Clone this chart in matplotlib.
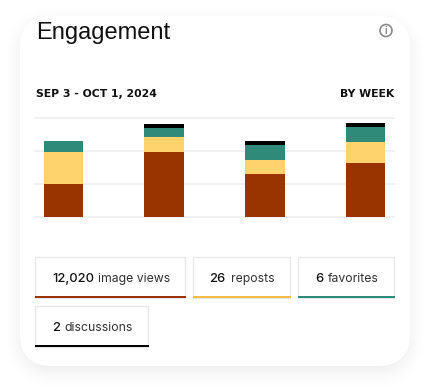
import numpy as np
import matplotlib
matplotlib.use("Agg")
import matplotlib.pyplot as plt
from matplotlib.patches import FancyBboxPatch, Rectangle, Circle

# Stacked bars (one gridline step = 100)
weeks = ["w1", "w2", "w3", "w4"]
image_views = [100, 197, 130, 164]
reposts = [97, 45, 42, 64]
favorites = [33, 27, 45, 45]
discussions = [0, 12, 12, 12]
grid_values = [0, 100, 200, 300]

# Legend boxes
legend_numbers = ["12,020", "26", "6", "2"]
legend_names = ["image views", "reposts", "favorites", "discussions"]

BROWN = "#993300"
YELLOW = "#FFD36B"
TEAL = "#2F8A7A"
BLACK = "#000000"
LINE_COLORS = [BROWN, "#F5BC42", TEAL, BLACK]

W, H = 430, 390
fig = plt.figure(figsize=(W / 100, H / 100), dpi=100, facecolor="white")

# Background axes in pixel coordinates for the card and the boxes
bg = fig.add_axes([0, 0, 1, 1])


# soft shadow from the distance to a rounded rectangle
def card_distance(px, py, x0, y0, x1, y1, r):
    cx, cy = (x0 + x1) / 2, (y0 + y1) / 2
    qx = np.abs(px - cx) - (x1 - x0) / 2 + r
    qy = np.abs(py - cy) - (y1 - y0) / 2 + r
    return np.hypot(np.maximum(qx, 0), np.maximum(qy, 0)) + np.minimum(np.maximum(qx, qy), 0) - r


px, py = np.meshgrid(np.arange(W) + 0.5, np.arange(H) + 0.5)
d = card_distance(px, py, 20, 22, 410, 372, 32)
shade = np.clip(1 - (d + 4) / 26, 0, 1) ** 2 * 0.055
bg.imshow(1 - shade, cmap="gray", vmin=0, vmax=1, extent=(0, W, H, 0), interpolation="bilinear", zorder=0)
bg.set_xlim(0, W)
bg.set_ylim(H, 0)
bg.set_aspect("auto")
bg.axis("off")

bg.add_patch(FancyBboxPatch((20, 16), 390, 350, boxstyle="round,pad=0,rounding_size=32",
                            fc="white", ec="none", zorder=1))

bg.text(36, 38.5, "Engagement", fontsize=17, family="Liberation Sans", color="#111111", va="baseline", ha="left", zorder=4)

# info icon
bg.add_patch(Circle((386, 30.5), 6, fc="white", ec="#8A8A8A", lw=1.2, zorder=2))
bg.text(386, 30.7, "i", fontsize=7, family="Liberation Sans", weight="bold", color="#8A8A8A", ha="center", va="center", zorder=4)

bg.text(35.5, 96.7, "SEP 3 - OCT 1, 2024", fontsize=7.8, family="DejaVu Sans", weight="bold", color="#111111", va="baseline", ha="left", zorder=4)
bg.text(394.5, 96.7, "BY WEEK", fontsize=7.8, family="DejaVu Sans", weight="bold", color="#111111", va="baseline", ha="right", zorder=4)

# Legend boxes: x0, x1, y0, y1, number x, name x
boxes = [
    (35, 185, 257, 298, 52, 98.5),
    (193, 290, 257, 298, 209, 231),
    (298, 394, 257, 298, 315, 328),
    (35, 147.5, 306, 347, 52, 64.5),
]
for i, (x0, x1, y0, y1, xn, xl) in enumerate(boxes):
    bg.add_patch(Rectangle((x0, y0), x1 - x0, y1 - y0, fc="white", ec="#E8E8E8", lw=1, zorder=2))
    bg.add_patch(Rectangle((x0, y1 - 2), x1 - x0 + 1, 2, fc=LINE_COLORS[i], ec="none", zorder=3))
    yb = y1 - 16
    bg.text(xn, yb, legend_numbers[i], fontsize=9.3, family="Inter", weight="medium", color="#111111", va="baseline", ha="left", zorder=4)
    bg.text(xl, yb, legend_names[i], fontsize=8.8, family="Inter", color="#333333", va="baseline", ha="left", zorder=4)

# Chart axes: x 35-394, y 118-217 in pixels
ax = fig.add_axes([35 / W, 1 - 217 / H, 359 / W, 99 / H])
ax.patch.set_alpha(0)
x = np.arange(len(weeks))
ax.set_xlim(-0.283, 3.283)
ax.set_ylim(0, 300)
for v in grid_values:
    ax.axhline(v, color="#F1F1F1", lw=1.4, zorder=0, clip_on=False)

views = np.array(image_views)
rep = np.array(reposts)
fav = np.array(favorites)
dis = np.array(discussions)
width = 0.397
ax.bar(x, views, width, color=BROWN, zorder=2)
ax.bar(x, rep, width, bottom=views, color=YELLOW, zorder=2)
ax.bar(x, fav, width, bottom=views + rep, color=TEAL, zorder=2)
ax.bar(x, dis, width, bottom=views + rep + fav, color=BLACK, zorder=2)
ax.axis("off")

fig.savefig("out.png", dpi=100)
